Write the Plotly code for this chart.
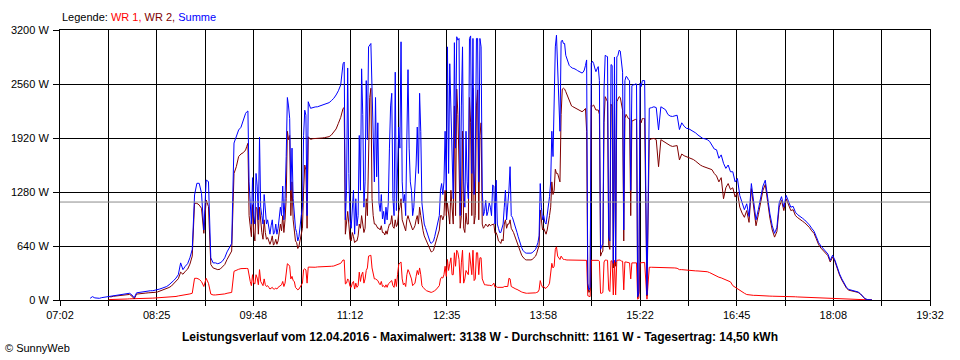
import pandas as pd
import plotly.graph_objects as go

# ---- data ----
day = "2016-04-12"
first_sample = "07:28"          # even-minute samples, every 2 min
fine1_start = "09:41"           # extra odd-minute samples in the busy periods
fine2_start = "11:07"
sample_step = "2min"
average_w = 1161

x_start, x_end = "07:02", "19:32"
x_tick_labels = ["07:02", "", "08:25", "", "09:48", "", "11:12", "", "12:35", "",
                 "13:58", "", "15:22", "", "16:45", "", "18:08", "", "19:32"]
y_tick_values = [0, 640, 1280, 1920, 2560, 3200]
y_tick_labels = ["0 W", "640 W", "1280 W", "1920 W", "2560 W", "3200 W"]

N = None
wr1 = [
    N, N, N, N, N, N, N, N, 5, 5, 6, 8, 8, 10, 10,
    12, 12, 14, 14, 14, 15, 15, 16, 18, 18, 20, 20, 22, 24, 25,
    26, 27, 28, 30, 32, 35, 38, 42, 48, 52, 55, 58, 65, 72, 80,
    257, 257, 245, 218, 160, 257, 198, 70, 60, 60, 62, 65, 68, 72, 80,
    85, 90, 340, 356, 364, 372, 376, 376, 372, 220, 300, 190, 260, 360, 200,
    250, 160, 150, 140, 130, 140, 150, 180, 220, 200, 430, 400, 280, 220, 140,
    130, 170, 360, 356, 390, 388, 388, 388, 392, 392, 392, 395, 395, 395, 400,
    403, 411, 419, 435, 474, 190, 250, 160, 200, 130, 150, 330, 300, 200, 350,
    520, 530, 300, 250, 230, 180, 160, 150, 150, 200, 230, 150, 160, 420, 450,
    180, 160, 360, 300, 170, 200, 350, 380, 170, 130, 110, 100, 90, 100, 120,
    150, 250, 260, 400, 480, 430, 300, 560, 590, 480, 440, 200, 350, 300, 450,
    590, 250, 560, 500, 250, 180, 175, 175, 170, 200, 160, 150, 150, 150, 160,
    160, 250, 150, 140, 125, 110, 95, 85, 80, 80, 80, 80, 85, 95, 230,
    150, 140, 150, 200, 435, 400, 630, 500, 520, 480, 474, 474, 474, 474, 474,
    474, 474, 474, 474, 470, 40, 470, 470, 465, 470, 80, 90, 474, 470, 100,
    460, 470, 470, 474, 460, 120, 450, 440, 250, 440, 440, 10, 440, 440, 445,
    10, 388, 388, 388, 385, 380, 386, 385, 385, 384, 382, 380, 380, 376, 360,
    360, 356, 352, 350, 348, 346, 345, 344, 342, 340, 338, 335, 325, 310, 290,
    280, 270, 262, 250, 230, 222, 215, 170, 150, 130, 110, 95, 80, 65, 60,
    55, 55, 55, 52, 50, 50, 50, 48, 46, 45, 45, 45, 45, 44, 44,
    42, 40, 40, 40, 38, 36, 35, 34, 32, 30, 30, 28, 27, 26, 25,
    24, 22, 20, 20, 18, 17, 16, 15, 14, 13, 12, 10, 9, 8, 7,
    6, 5, 4, 3, 2, 1, 0, 0,
]
wr2 = [
    N, N, N, N, N, N, N, N, 40, 37, 44, 47, 47, 50, 55,
    58, 63, 66, 46, 13, 70, 75, 76, 77, 82, 85, 90, 88, 91, 95,
    104, 113, 122, 130, 148, 165, 192, 218, 252, 330, 305, 340, 365, 425, 520,
    1146, 1146, 1126, 1087, 790, 1185, 1107, 420, 380, 370, 360, 365, 390, 420, 480,
    530, 580, 1500, 1580, 1700, 1730, 1746, 1778, 1857, 880, 1130, 700, 1080, 1100, 800,
    950, 720, 690, 700, 650, 720, 700, 900, 1000, 950, 2000, 1950, 1400, 850, 680,
    640, 800, 1300, 1540, 1935, 1904, 1912, 1912, 1916, 1916, 1920, 1924, 1928, 1936, 1956,
    1995, 2027, 2094, 2165, 2270, 780, 1050, 720, 800, 680, 700, 900, 1000, 800, 1200,
    1820, 2510, 1000, 900, 850, 830, 800, 770, 780, 900, 1000, 850, 870, 1050, 1200,
    900, 820, 1000, 900, 830, 880, 1000, 1100, 880, 760, 700, 620, 570, 590, 690,
    800, 1000, 950, 1300, 1150, 900, 1050, 2300, 2500, 1600, 1000, 850, 1030, 900, 2100,
    2510, 1000, 2490, 1950, 900, 870, 880, 900, 890, 900, 800, 700, 670, 700, 950,
    900, 950, 830, 760, 680, 600, 530, 490, 475, 473, 475, 490, 520, 593, 1067,
    830, 800, 830, 1000, 1400, 1300, 1500, 1450, 2200, 2510, 2470, 2410, 2330, 2292, 2280,
    2270, 2250, 2232, 2252, 2000, 90, 2311, 2311, 2252, 2252, 520, 580, 2410, 2350, 600,
    2300, 2350, 2350, 2410, 2300, 700, 2200, 2150, 1000, 2130, 2140, 30, 2130, 2150, 2150,
    50, 1897, 1910, 1915, 1900, 1580, 1900, 1880, 1860, 1840, 1830, 1820, 1825, 1830, 1660,
    1730, 1710, 1699, 1690, 1679, 1665, 1645, 1620, 1600, 1585, 1575, 1565, 1560, 1545, 1500,
    1470, 1400, 1450, 1200, 1330, 1380, 1310, 1330, 1220, 1280, 1100, 1030, 980, 1060, 920,
    1320, 1100, 880, 1010, 1180, 1300, 1370, 1150, 970, 830, 745, 810, 1100, 1180, 1060,
    1200, 1140, 1060, 1070, 1000, 975, 950, 935, 915, 890, 860, 820, 790, 725, 655,
    615, 588, 560, 525, 450, 510, 458, 365, 296, 237, 178, 140, 116, 110, 107,
    105, 90, 71, 42, 13, 4, 0, 0,
]
summe = [
    20, 40, 25, 22, 20, 28, 32, 40, 45, 42, 50, 55, 55, 60, 65,
    70, 75, 80, 60, 27, 85, 90, 92, 95, 100, 105, 110, 110, 115, 120,
    130, 140, 150, 160, 180, 200, 230, 260, 300, 440, 360, 400, 430, 500, 600,
    1245, 1383, 1383, 1265, 830, 1422, 1403, 500, 440, 440, 430, 440, 460, 500, 570,
    630, 670, 1860, 1936, 2015, 2047, 2133, 2212, 2240, 1100, 1450, 900, 1350, 1930, 1000,
    1250, 900, 830, 880, 780, 900, 850, 1100, 1350, 1200, 2400, 2150, 1800, 1000, 800,
    750, 1000, 1950, 2190, 2350, 2272, 2284, 2288, 2290, 2300, 2307, 2315, 2323, 2339, 2363,
    2390, 2430, 2480, 2550, 2800, 950, 2750, 950, 1150, 780, 880, 1950, 2740, 1100, 2600,
    3000, 3040, 2000, 2400, 2100, 1050, 960, 900, 950, 1800, 2450, 1000, 1060, 2050, 3060,
    1150, 1000, 2730, 1400, 1000, 1300, 2050, 2450, 1150, 900, 820, 720, 670, 700, 820,
    960, 1300, 1250, 2000, 3000, 2800, 1500, 3050, 3120, 3100, 2300, 1400, 2000, 1200, 3130,
    3100, 1600, 3100, 3100, 1300, 1050, 1000, 1150, 1000, 1350, 1420, 850, 800, 900, 1300,
    1100, 1580, 980, 900, 800, 700, 620, 570, 555, 553, 555, 570, 600, 680, 1380,
    950, 920, 1000, 1225, 2000, 2500, 3138, 2200, 3060, 3040, 2900, 2800, 2766, 2746, 2740,
    2720, 2700, 2690, 2726, 2845, 120, 2805, 2805, 2706, 2766, 600, 670, 2900, 2884, 700,
    2780, 2880, 2880, 2960, 2850, 830, 2650, 2610, 1300, 2550, 2560, 40, 2570, 2600, 2600,
    60, 2272, 2280, 2290, 2280, 2015, 2290, 2270, 2255, 2200, 2180, 2175, 2185, 2190, 2020,
    2100, 2060, 2035, 2030, 2015, 2000, 1980, 1955, 1935, 1916, 1910, 1900, 1880, 1830, 1790,
    1780, 1680, 1720, 1620, 1560, 1600, 1520, 1520, 1400, 1440, 1240, 1150, 1070, 1140, 990,
    1380, 1150, 950, 1070, 1230, 1350, 1420, 1200, 1020, 880, 790, 860, 1150, 1225, 1100,
    1240, 1180, 1100, 1110, 1040, 1010, 985, 970, 948, 920, 890, 850, 815, 750, 680,
    640, 610, 580, 545, 470, 530, 474, 380, 310, 250, 190, 150, 125, 118, 114,
    111, 95, 75, 45, 15, 5, 0, 0,
]

# odd-minute samples 09:41 .. 10:35
wr1_fine1 = [376, 374, 260, 170, 200, 300, 180, 220, 170, 180, 170, 130, 150, 130,
             130, 160, 180, 160, 330, 420, 250, 230, 150, 120, 150, 200, 370, 200]
wr2_fine1 = [1760, 1820, 1000, 750, 800, 1100, 780, 880, 720, 800, 740, 660, 760, 670,
             660, 800, 820, 800, 1200, 1900, 1000, 950, 700, 610, 720, 850, 1600, 850]
summe_fine1 = [2170, 2230, 1400, 900, 1000, 1500, 950, 1100, 900, 1000, 950, 780, 950, 800,
               780, 950, 1000, 950, 1700, 2300, 1300, 1200, 850, 700, 900, 1100, 2250, 1000]

# odd-minute samples 11:07 .. 15:25
wr1_fine2 = [
    474, 200, 230, 150, 220, 200, 170, 220, 330, 250,
    380, 530, 380, 250, 240, 200, 220, 170, 180, 190,
    220, 170, 250, 300, 440, 250, 200, 300, 330, 250,
    180, 280, 300, 300, 150, 120, 105, 95, 95, 110,
    140, 170, 270, 300, 280, 350, 500, 300, 400, 560,
    200, 590, 250, 330, 560, 300, 230, 560, 300, 500,
    200, 180, 175, 175, 180, 150, 150, 150, 150, 160,
    160, 257, 160, 145, 130, 115, 100, 90, 80, 80,
    80, 80, 82, 90, 120, 180, 160, 140, 170, 300,
    380, 600, 520, 480, 500, 480, 474, 474, 474, 474,
    474, 474, 474, 474, 474, 50, 40, 470, 468, 466,
    460, 80, 450, 472, 120, 465, 60, 60, 472, 474,
    460, 450, 445, 440, 440, 440, 440, 20, 440, 440,
]
wr2_fine2 = [
    2280, 900, 900, 700, 750, 700, 760, 850, 900, 850,
    1000, 2400, 1200, 900, 870, 850, 880, 800, 820, 850,
    900, 870, 950, 900, 1100, 950, 850, 950, 950, 880,
    850, 950, 900, 1000, 820, 730, 660, 590, 575, 640,
    760, 830, 1000, 1000, 1000, 1000, 1300, 900, 1000, 2200,
    850, 2000, 800, 900, 2400, 1000, 900, 2300, 950, 2100,
    850, 900, 870, 880, 900, 790, 760, 690, 720, 900,
    850, 900, 850, 800, 720, 640, 565, 510, 480, 474,
    474, 480, 505, 555, 650, 900, 850, 780, 900, 1100,
    1250, 1550, 1500, 1400, 2500, 2500, 2440, 2380, 2300, 2285,
    2275, 2260, 2240, 2240, 2270, 150, 120, 2300, 2280, 2252,
    2200, 560, 2100, 2380, 650, 2320, 380, 400, 2380, 2400,
    2250, 2150, 2180, 2150, 2120, 2130, 2140, 80, 2100, 2150,
]
summe_fine2 = [
    2820, 1300, 1500, 850, 1300, 1200, 1000, 1300, 2200, 1400,
    1900, 3030, 2500, 1400, 1460, 1150, 1250, 1050, 1100, 1150,
    2300, 1200, 2700, 1500, 1800, 1400, 1250, 1900, 1800, 1300,
    1100, 1600, 1500, 2000, 1000, 860, 760, 690, 680, 750,
    900, 1000, 1380, 1400, 1300, 1500, 2200, 1200, 1800, 3080,
    1000, 3000, 1100, 1400, 3100, 1500, 1250, 3100, 1400, 3000,
    1000, 1180, 1050, 1100, 1363, 900, 900, 800, 850, 1100,
    950, 1300, 1000, 940, 850, 750, 660, 590, 560, 553,
    554, 560, 585, 640, 760, 1100, 1000, 900, 1100, 1400,
    1700, 3000, 2700, 2000, 3080, 3040, 2850, 2780, 2750, 2744,
    2730, 2710, 2695, 2700, 2780, 200, 150, 2830, 2750, 2740,
    2600, 640, 2500, 2890, 750, 2790, 435, 450, 2900, 2950,
    2700, 2600, 2640, 2600, 2540, 2550, 2560, 100, 2530, 2600,
]

title_text = ("Leistungsverlauf vom 12.04.2016 - Maximalwert: 3138 W - "
              "Durchschnitt: 1161 W - Tagesertrag: 14,50 kWh")


# ---- figure ----
def series(main, fine1, fine2):
    parts = [
        pd.Series(main, index=pd.date_range(f"{day} {first_sample}", periods=len(main), freq=sample_step), dtype="float"),
        pd.Series(fine1, index=pd.date_range(f"{day} {fine1_start}", periods=len(fine1), freq=sample_step), dtype="float"),
        pd.Series(fine2, index=pd.date_range(f"{day} {fine2_start}", periods=len(fine2), freq=sample_step), dtype="float"),
    ]
    s = pd.concat(parts).sort_index()
    return s.index, [None if pd.isna(v) else v for v in s.values]


tick_times = pd.date_range(f"{day} {x_start}", f"{day} {x_end}", periods=len(x_tick_labels))

FONT = "Liberation Sans, Arial, sans-serif"

fig = go.Figure()
for name, main, f1, f2, col in [("WR 1", wr1, wr1_fine1, wr1_fine2, "#ff0000"),
                                ("WR 2", wr2, wr2_fine1, wr2_fine2, "#800000"),
                                ("Summe", summe, summe_fine1, summe_fine2, "#0000ff")]:
    xs, ys = series(main, f1, f2)
    fig.add_trace(go.Scatter(x=xs, y=ys, mode="lines", name=name,
                             line=dict(color=col, width=1, shape="linear"),
                             connectgaps=False, hoverinfo="skip"))

fig.add_shape(type="line", xref="paper", x0=0, x1=1, yref="y",
              y0=average_w, y1=average_w, line=dict(color="#8c8c8c", width=1),
              layer="above")

fig.add_annotation(xref="paper", yref="paper", x=0, y=1.049, xanchor="left",
                   yanchor="middle", showarrow=False,
                   text=("Legende: <span style='color:#ff0000'>WR 1, </span>"
                         "<span style='color:#800000'>WR 2, </span>"
                         "<span style='color:#0000ff'>Summe</span>"),
                   font=dict(family=FONT, size=11, color="black"))
fig.add_annotation(xref="paper", yref="paper", x=-0.066, y=-0.179, xanchor="left",
                   yanchor="middle", showarrow=False, text="© SunnyWeb",
                   font=dict(family=FONT, size=11, color="black"))

fig.update_layout(
    width=960, height=360,
    margin=dict(l=60, r=30, t=30, b=60),
    paper_bgcolor="white", plot_bgcolor="white",
    showlegend=False,
    font=dict(family=FONT, size=11, color="black"),
    title=dict(text=f"<b>{title_text}</b>", xref="container", yref="container",
               x=0.5, y=1 - 337 / 360, xanchor="center", yanchor="middle",
               font=dict(family=FONT, size=12, color="black")),
    xaxis=dict(type="date", range=[tick_times[0], tick_times[-1]],
               tickmode="array", tickvals=list(tick_times), ticktext=x_tick_labels,
               showgrid=True, gridcolor="black", gridwidth=1,
               showline=True, linecolor="black", linewidth=1, mirror=True,
               ticks="outside", ticklen=5, tickcolor="black", tickwidth=1,
               zeroline=False, tickfont=dict(family=FONT, size=11)),
    yaxis=dict(range=[0, 3200], tickmode="array", tickvals=y_tick_values,
               ticktext=y_tick_labels,
               showgrid=True, gridcolor="black", gridwidth=1,
               showline=True, linecolor="black", linewidth=1, mirror=True,
               ticks="outside", ticklen=6, tickcolor="black", tickwidth=1,
               ticklabelstandoff=2,
               zeroline=False, tickfont=dict(family=FONT, size=11)),
)

fig.write_html("out.html", config={"displayModeBar": False},
               post_script="document.body.style.margin='0';")
